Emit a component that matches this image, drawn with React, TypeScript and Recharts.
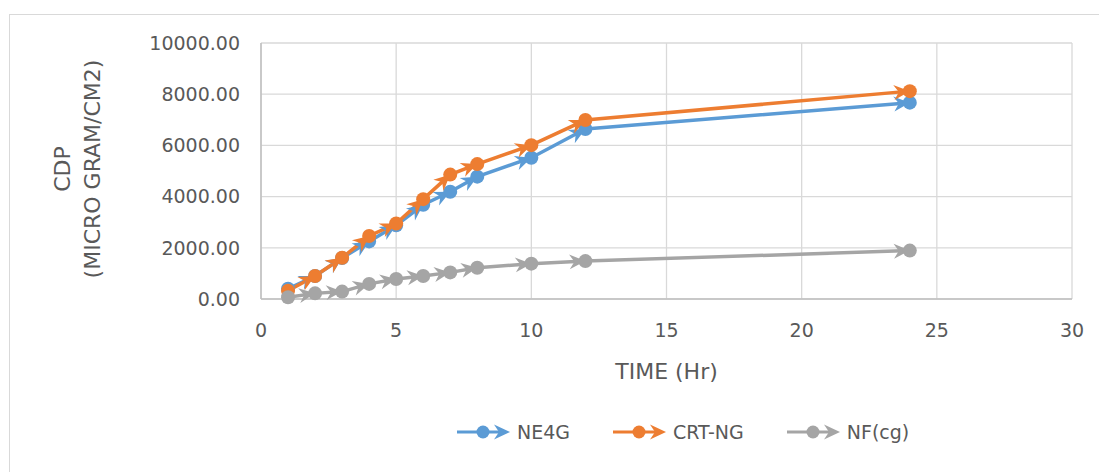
import React from 'react';
import { LineChart, Line, XAxis, YAxis, CartesianGrid, Legend } from 'recharts';

const times = [1, 2, 3, 4, 5, 6, 7, 8, 10, 12, 24];
const ne4g = [400, 900, 1600, 2250, 2880, 3680, 4190, 4780, 5520, 6640, 7670];
const crtng = [320, 900, 1610, 2460, 2950, 3900, 4860, 5270, 6010, 6990, 8120];
const nfcg = [70, 220, 290, 590, 780, 900, 1040, 1220, 1380, 1480, 1890];
const xTicks = [0, 5, 10, 15, 20, 25, 30];
const yTicks = [0, 2000, 4000, 6000, 8000, 10000];

const seriesNames = ['NE4G', 'CRT-NG', 'NF(cg)'];
const colors = ['#5B9BD5', '#ED7D31', '#A5A5A5'];

const data = times.map((t, i) => ({ t, ne4g: ne4g[i], crtng: crtng[i], nfcg: nfcg[i] }));

const FONT = "'DejaVu Sans', sans-serif";
const TEXT = '#595959';

const makeDot = (color: string) => (props: any) => {
  const { cx, cy, index, points } = props;
  let arrow = null;
  if (index > 0 && points && points[index - 1]) {
    const p = points[index - 1];
    const ang = (Math.atan2(cy - p.y, cx - p.x) * 180) / Math.PI;
    arrow = (
      <path
        d="M0,0 L-16,-7.5 L-11,0 L-16,7.5 Z"
        fill={color}
        transform={`translate(${cx},${cy}) rotate(${ang})`}
      />
    );
  }
  return (
    <g key={`d-${color}-${index}`}>
      {arrow}
      <circle cx={cx} cy={cy} r={7} fill={color} stroke="none" />
    </g>
  );
};

const LegendIcon = ({ color }: { color: string }) => (
  <svg width={54} height={20} style={{ display: 'block' }}>
    <line x1={0} y1={10} x2={42} y2={10} stroke={color} strokeWidth={3} />
    <circle cx={26} cy={10} r={6.5} fill={color} />
    <path d="M53,10 L37,2.5 L42,10 L37,17.5 Z" fill={color} />
  </svg>
);

const renderLegend = () => (
  <div
    style={{
      width: 1099,
      height: 28,
      display: 'flex',
      alignItems: 'center',
      paddingLeft: 457,
      boxSizing: 'border-box',
      fontFamily: FONT,
      fontSize: 19,
      color: TEXT,
    }}
  >
    {seriesNames.map((n, i) => (
      <div key={n} style={{ display: 'flex', alignItems: 'center', marginRight: 43 }}>
        <LegendIcon color={colors[i]} />
        <span style={{ marginLeft: 6, lineHeight: '28px', whiteSpace: 'nowrap' }}>{n}</span>
      </div>
    ))}
  </div>
);

const XTitle = (props: any) => {
  const vb = props.viewBox || { x: 261, y: 299, width: 811 };
  return (
    <text
      x={vb.x + vb.width / 2}
      y={vb.y + 80}
      textAnchor="middle"
      fill={TEXT}
      fontFamily={FONT}
      fontSize={22}
    >
      TIME (Hr)
    </text>
  );
};

const YTitle = () => {
  const cx = 70;
  const cy = 169;
  return (
    <text
      x={cx}
      y={cy}
      transform={`rotate(-90, ${cx}, ${cy})`}
      textAnchor="middle"
      fill={TEXT}
      fontFamily={FONT}
      fontSize={22}
    >
      <tspan x={cx} dy={0}>CDP</tspan>
      <tspan x={cx} dy={30}>(MICRO GRAM/CM2)</tspan>
    </text>
  );
};

export default function App() {
  return (
    <div
      style={{
        position: 'absolute',
        left: 0,
        top: 0,
        width: 1099,
        height: 472,
        overflow: 'hidden',
        background: '#fff',
      }}
    >
      <div
        style={{
          position: 'absolute',
          left: 9,
          top: 14,
          width: 1200,
          height: 600,
          border: '1.5px solid #D9D9D9',
        }}
      />
      <div style={{ position: 'absolute', left: 0, top: 0 }}>
        <LineChart
          width={1099}
          height={472}
          data={data}
          margin={{ top: 43, right: 27, bottom: 113, left: 0 }}
        >
          <CartesianGrid stroke="#D9D9D9" strokeWidth={1.3} />
          <XAxis
            type="number"
            dataKey="t"
            domain={[0, 30]}
            ticks={xTicks}
            height={60}
            tickSize={0}
            tickLine={false}
            tickMargin={25}
            axisLine={{ stroke: '#BFBFBF', strokeWidth: 1.5 }}
            tick={{ fill: TEXT, fontFamily: FONT, fontSize: 19 }}
            label={<XTitle />}
            interval={0}
          />
          <YAxis
            type="number"
            domain={[0, 10000]}
            ticks={yTicks}
            width={261}
            tickSize={0}
            tickLine={false}
            tickMargin={21}
            axisLine={{ stroke: '#BFBFBF', strokeWidth: 1.5 }}
            tick={{ fill: TEXT, fontFamily: FONT, fontSize: 19 }}
            tickFormatter={(v: number) => v.toFixed(2)}
            label={<YTitle />}
            interval={0}
          />
          <Legend
            layout="horizontal"
            verticalAlign="middle"
            align="center"
            wrapperStyle={{ top: 418, left: 0, width: 1099 }}
            content={renderLegend}
          />
          <Line
            dataKey="ne4g"
            name={seriesNames[0]}
            stroke={colors[0]}
            strokeWidth={3.5}
            dot={makeDot(colors[0])}
            activeDot={false}
            isAnimationActive={false}
          />
          <Line
            dataKey="crtng"
            name={seriesNames[1]}
            stroke={colors[1]}
            strokeWidth={3.5}
            dot={makeDot(colors[1])}
            activeDot={false}
            isAnimationActive={false}
          />
          <Line
            dataKey="nfcg"
            name={seriesNames[2]}
            stroke={colors[2]}
            strokeWidth={3.5}
            dot={makeDot(colors[2])}
            activeDot={false}
            isAnimationActive={false}
          />
        </LineChart>
      </div>
    </div>
  );
}
